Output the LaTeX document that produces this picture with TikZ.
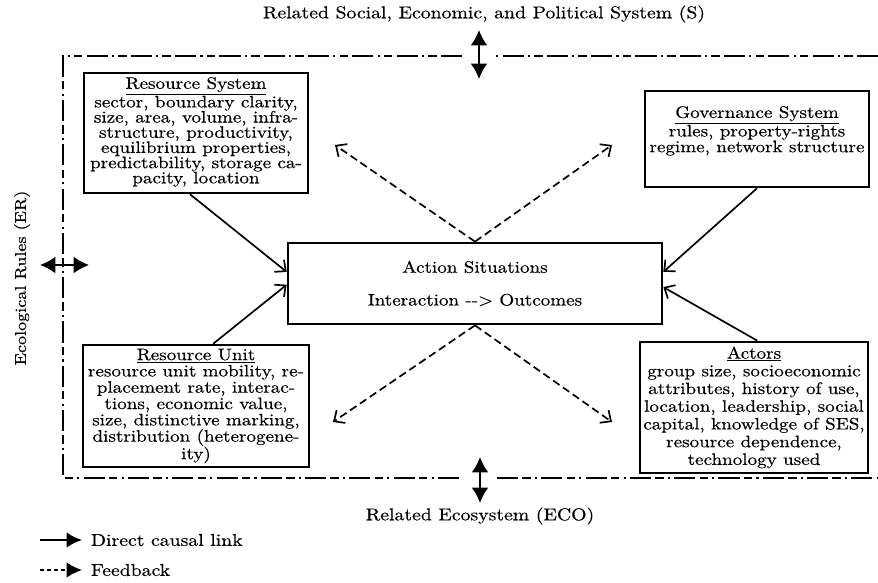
\documentclass[tikz,border=0pt]{standalone}
\usepackage{fontspec}
\setmainfont{lmroman10-regular}[Extension=.otf, FakeStretch=1.15, FakeBold=0.4]
\usepackage{tikz}
\usetikzlibrary{arrows.meta}
\usepackage{xcolor}

\newcommand{\boxfont}[1]{\fontsize{11.8}{#1}\selectfont\lineskiplimit=0pt\lineskip=0.6pt}

\begin{document}
\begin{tikzpicture}[x=0.025cm, y=-0.025cm]
        % ================= 样式定义 =================
        \tikzset{
            % 子系统方框:白底粗黑边
            sesbox/.style={draw=black, line width=1.8pt, fill=white, align=center, inner sep=2pt},
            % 直接因果联系 (实线)
            causal/.style={line width=1.2pt, -{Straight Barb[length=6pt,width=11pt]}},
            % 反馈 (虚线)
            feedback/.style={line width=1.2pt, dash pattern=on 5.5pt off 3pt, -{Straight Barb[length=6pt,width=11pt]}},
            % 外框点划线
            frame_line/.style={line width=2pt, dash pattern=on 15pt off 3pt on 6pt off 3pt on 1.5pt off 3pt},
            % 双向粗箭头
            link_arrow/.style={line width=1.2pt, {Latex[length=11pt,width=12pt]}-{Latex[length=11pt,width=12pt]}},
            label_text/.style={font=\fontsize{12.2}{14}\selectfont}
        }
        \useasboundingbox (0,0) rectangle (878,583);

        % ================= 外框与外部系统 =================
        \draw[frame_line] (878,56) -- (496,56);
        \draw[frame_line] (462,56) -- (63,56) -- (63,478) -- (462,478);
        \draw[frame_line] (497,478) -- (878,478);

        \node[label_text] (sys_s) at (484,14) {Related Social, Economic, and Political System (S)};
        \node[label_text] (sys_eco) at (480,516) {Related Ecosystem (ECO)};
        \node[font=\fontsize{11.2}{12}\selectfont, rotate=90] (sys_er) at (22,278) {Ecological Rules (ER)};

        \coordinate (s_top) at (479,30);
        \coordinate (s_bot) at (479,79);
        \coordinate (eco_top) at (480,457);
        \coordinate (eco_bot) at (480,503);
        \coordinate (er_l) at (40,265);
        \coordinate (er_r) at (89,265);
        \draw[link_arrow] (s_top) -- (s_bot);
        \draw[link_arrow] (eco_top) -- (eco_bot);
        \draw[link_arrow] (er_l) -- (er_r);

        % ================= 四个子系统与行动情境 =================
        \node[sesbox, minimum width=5.6cm, minimum height=3cm, font=\boxfont{10.8}] (rs) at (196,133)
            {\underline{Resource System}\\ sector, boundary clarity,\\ size, area, volume, infra-\\ structure, productivity,\\ equilibrium properties,\\ predictability, storage ca-\\ pacity, location\rule[-4pt]{0pt}{0pt}};
        \node[sesbox, minimum width=5.6cm, minimum height=2.4cm, font=\boxfont{10.4}] (gov) at (757,139)
            {\underline{Governance System}\\ rules, property-rights\\ regime, network structure\rule[-14pt]{0pt}{0pt}};
        \node[sesbox, minimum width=9.35cm, minimum height=2.03cm, font=\boxfont{10.3}] (act) at (475,283.5)
            {Action Situations\\[13pt] Interaction -{}-> Outcomes};
        \node[sesbox, minimum width=5.65cm, minimum height=3.05cm, font=\boxfont{11.6}] (ru) at (196,406)
            {\underline{Resource Unit}\\ resource unit mobility, re-\\ placement rate, interac-\\ tions, economic value,\\ size, distinctive marking,\\ distribution (heterogene-\\ ity)};
        \node[sesbox, minimum width=5.7cm, minimum height=3.28cm, font=\boxfont{12.6}] (actors) at (754,407.5)
            {\underline{Actors}\\ group size, socioeconomic\\ attributes, history of use,\\ location, leadership, social\\ capital, knowledge of SES,\\ resource dependence,\\ technology used};

        % 直接因果联系
        \draw[causal] ([xshift=-0.15cm]rs.south) -- ([yshift=0.29cm]act.west);
        \draw[causal] ([xshift=0.43cm]ru.north) -- ([yshift=-0.03cm]act.west);
        \draw[causal] (gov.south) -- ([yshift=0.29cm]act.east);
        \draw[causal] ([xshift=0.08cm]actors.north) -- ([yshift=-0.09cm]act.east);

        % 反馈
        \coordinate (fb_rs) at (335,145);
        \coordinate (fb_gov) at (612,145);
        \coordinate (fb_ru) at (333,422);
        \coordinate (fb_actors) at (612,422);
        \draw[feedback] (act.north) -- (fb_rs);
        \draw[feedback] (act.north) -- (fb_gov);
        \draw[feedback] (act.south) -- (fb_ru);
        \draw[feedback] (act.south) -- (fb_actors);

        % ================= 图例 =================
        \coordinate (lg_causal_a) at (40,540);
        \coordinate (lg_causal_b) at (82,540);
        \coordinate (lg_fb_a) at (40,570);
        \coordinate (lg_fb_b) at (82,570);
        \draw[line width=1.2pt, -{Latex[length=11pt,width=11pt]}] (lg_causal_a) -- (lg_causal_b);
        \draw[line width=1.2pt, dash pattern=on 3pt off 2pt, -{Latex[length=11pt,width=11pt]}] (lg_fb_a) -- (lg_fb_b);
        \node[label_text, anchor=west] (lg_causal) at (86,540) {Direct causal link};
        \node[label_text, anchor=west] (lg_fb) at (86,570) {Feedback};

    \end{tikzpicture}
\end{document}
